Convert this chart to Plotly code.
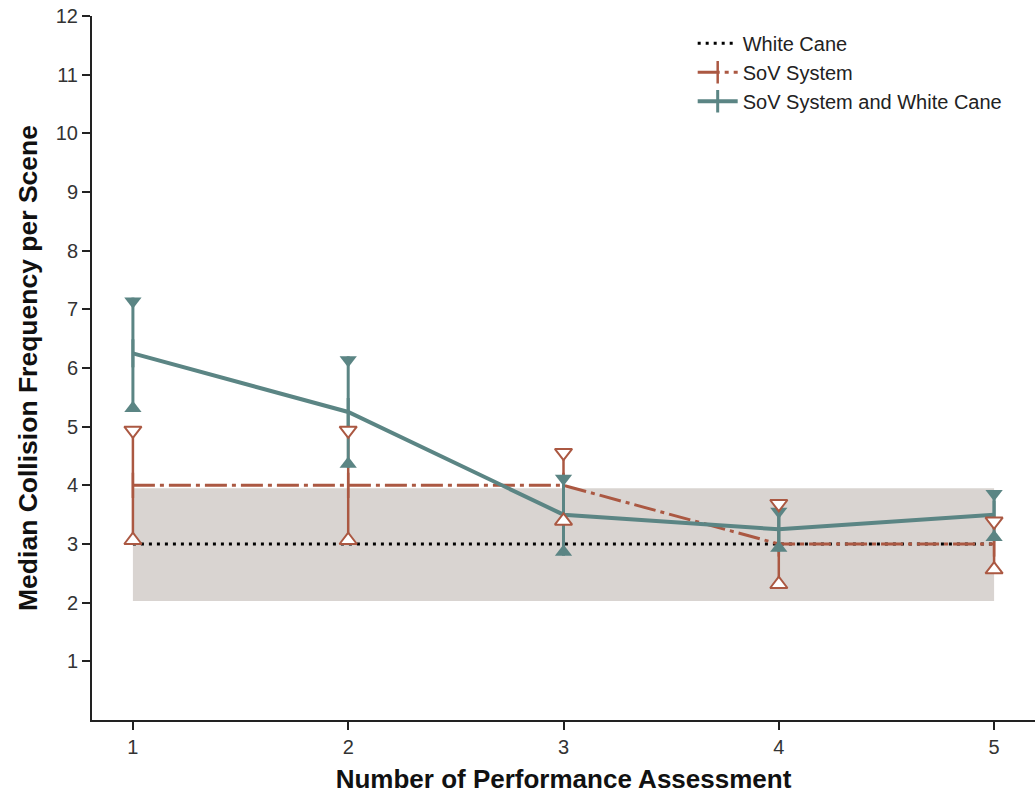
import plotly.graph_objects as go

assessments = [1, 2, 3, 4, 5]

# White cane reference (median and interquartile band)
cane_median = [3, 3, 3, 3, 3]
cane_low = [2.03, 2.03, 2.03, 2.03, 2.03]
cane_high = [3.95, 3.95, 3.95, 3.95, 3.95]

# SoV System
sov_median = [4, 4, 4, 3, 3]
sov_upper = [5.0, 5.0, 4.62, 3.75, 3.45]
sov_lower = [3.0, 3.0, 3.33, 2.25, 2.5]

# SoV System and White Cane
both_median = [6.25, 5.25, 3.5, 3.25, 3.5]
both_upper = [7.2, 6.2, 4.18, 3.62, 3.92]
both_lower = [5.25, 4.3, 2.8, 2.87, 3.05]

x_ticks = [1, 2, 3, 4, 5]
y_ticks = list(range(1, 13))

BROWN = "#ab5842"
TEAL = "#5b8584"
BAND = "#d9d4d1"

PLOT_H = 704
Y_RANGE = (0, 12)
MSIZE = 15
# offset so the flat side of each triangle sits on the bound value
off = (MSIZE / 4) * (Y_RANGE[1] - Y_RANGE[0]) / PLOT_H

fig = go.Figure()

# shaded white-cane band
fig.add_trace(go.Scatter(
    x=assessments + assessments[::-1],
    y=cane_high + cane_low[::-1],
    fill="toself", fillcolor=BAND, line=dict(width=0),
    mode="lines", showlegend=False, hoverinfo="skip"))

# White cane dotted line
fig.add_trace(go.Scatter(
    x=assessments, y=cane_median, mode="lines", name="White Cane",
    line=dict(color="black", width=3, dash="3px,5px")))

# SoV System
fig.add_trace(go.Scatter(
    x=assessments, y=sov_median, mode="lines+markers", name="SoV System",
    line=dict(color=BROWN, width=3, dash="22px,5px,4px,5px"),
    marker=dict(symbol="line-ns-open", size=18, line=dict(color=BROWN, width=2.5), color=BROWN),
    error_y=dict(type="data", symmetric=False,
                 array=[u - m for u, m in zip(sov_upper, sov_median)],
                 arrayminus=[m - l for m, l in zip(sov_median, sov_lower)],
                 color=BROWN, thickness=2.5, width=0)))

# SoV System and White Cane
fig.add_trace(go.Scatter(
    x=assessments, y=both_median, mode="lines+markers", name="SoV System and White Cane",
    line=dict(color=TEAL, width=4),
    marker=dict(symbol="line-ns-open", size=20, line=dict(color=TEAL, width=3), color=TEAL),
    error_y=dict(type="data", symmetric=False,
                 array=[u - m for u, m in zip(both_upper, both_median)],
                 arrayminus=[m - l for m, l in zip(both_median, both_lower)],
                 color=TEAL, thickness=3, width=0)))

# Teal triangles (filled)
fig.add_trace(go.Scatter(
    x=assessments, y=[v - off for v in both_upper], mode="markers", showlegend=False,
    marker=dict(symbol="triangle-down", size=MSIZE, color=TEAL, line=dict(width=0))))
fig.add_trace(go.Scatter(
    x=assessments, y=[v + off for v in both_lower], mode="markers", showlegend=False,
    marker=dict(symbol="triangle-up", size=MSIZE, color=TEAL, line=dict(width=0))))

# Brown triangles (open, white fill)
fig.add_trace(go.Scatter(
    x=assessments, y=[v - off for v in sov_upper], mode="markers", showlegend=False,
    marker=dict(symbol="triangle-down", size=MSIZE, color="white", line=dict(color=BROWN, width=2))))
fig.add_trace(go.Scatter(
    x=assessments, y=[v + off for v in sov_lower], mode="markers", showlegend=False,
    marker=dict(symbol="triangle-up", size=MSIZE, color="white", line=dict(color=BROWN, width=2))))

FONT = "Liberation Sans, Arial, sans-serif"

fig.update_layout(
    width=1035, height=794,
    margin=dict(l=92, r=0, t=16, b=74),
    paper_bgcolor="white", plot_bgcolor="white",
    font=dict(family=FONT, color="#222222"),
    showlegend=True,
    legend=dict(x=0.637, y=0.989, xanchor="left", yanchor="top",
                font=dict(size=20, family=FONT, color="#222222"),
                bgcolor="rgba(0,0,0,0)", tracegroupgap=0, itemwidth=40),
    xaxis=dict(range=[0.81, 5.19], tickvals=x_ticks, ticktext=[str(t) for t in x_ticks],
               showgrid=False, zeroline=False, showline=True, linecolor="#222222", linewidth=2,
               ticks="outside", ticklen=8, tickwidth=1.5, tickcolor="#222222",
               tickfont=dict(size=20, family=FONT, color="#333333"),
               title=dict(text="<b>Number of Performance Assessment</b>",
                          font=dict(size=26, family=FONT, color="#111111"), standoff=15)),
    yaxis=dict(range=list(Y_RANGE), tickvals=y_ticks, ticktext=[str(t) for t in y_ticks],
               showgrid=False, zeroline=False, showline=True, linecolor="#222222", linewidth=2,
               ticks="outside", ticklen=8, tickwidth=1.5, tickcolor="#222222",
               tickfont=dict(size=20, family=FONT, color="#333333"),
               title=dict(text="<b>Median Collision Frequency per Scene</b>",
                          font=dict(size=26.5, family=FONT, color="#111111"), standoff=10)),
)

fig.write_html("out.html", config={"displayModeBar": False},
               post_script="document.body.style.margin='0';document.body.style.overflow='hidden';")
